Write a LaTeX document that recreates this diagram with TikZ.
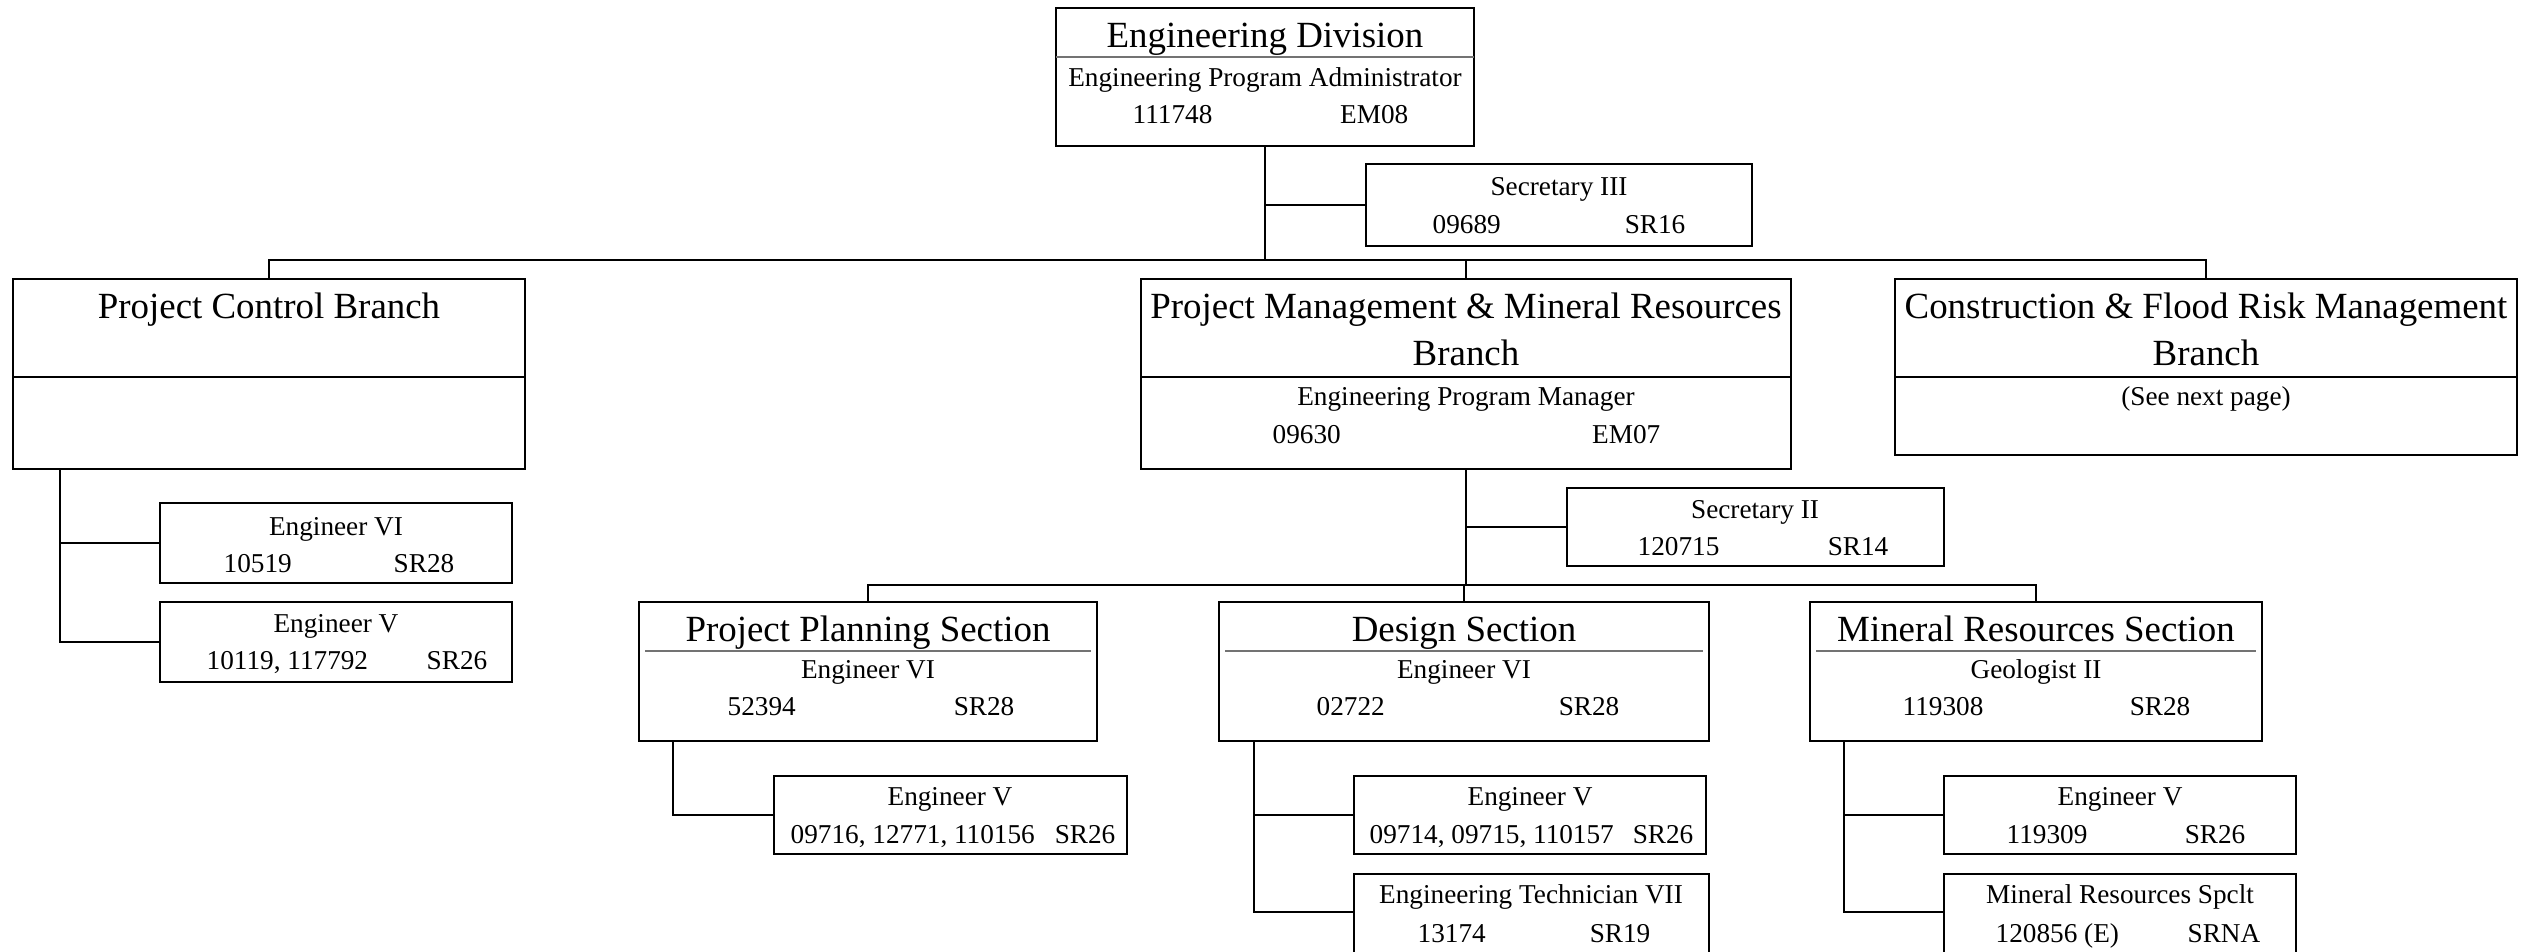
\documentclass[tikz,border=0pt]{standalone}
\usepackage{fontspec}
\setmainfont{Liberation Serif}
\usetikzlibrary{fit}
\begin{document}
\begin{tikzpicture}[x=0.1mm,y=-0.1mm,
  obox/.style={draw, line width=0.2mm, inner sep=0pt},
  conn/.style={line width=0.2mm},
  sepblk/.style={line width=0.2mm},
  sepgray/.style={draw=black!55, line width=0.15mm},
  ttl/.style={font=\fontsize{10.5}{13}\selectfont, anchor=base, inner sep=0pt},
  txt/.style={font=\fontsize{7.75}{9}\selectfont, anchor=base, inner sep=0pt},
  txl/.style={txt, anchor=base west},
  txr/.style={txt, anchor=base east}]
\clip (0,0) rectangle (2540,951);
\fill[white] (0,0) rectangle (2540,951);

% ---------- boxes ----------
\node[obox, fit={(1056,8) (1474,146)}] (ed) {};
\node[obox, fit={(1366,164) (1752,246)}] (sec3) {};
\node[obox, fit={(13,279) (525,469)}] (pcb) {};
\node[obox, fit={(1141,279) (1791,469)}] (pmmr) {};
\node[obox, fit={(1895,279) (2517,455)}] (cfrm) {};
\node[obox, fit={(160,503) (512,583)}] (pe6) {};
\node[obox, fit={(160,602) (512,682)}] (pe5) {};
\node[obox, fit={(1567,488) (1944,566)}] (sec2) {};
\node[obox, fit={(639,602) (1097,741)}] (pps) {};
\node[obox, fit={(774,776) (1127,854)}] (ppe5) {};
\node[obox, fit={(1219,602) (1709,741)}] (ds) {};
\node[obox, fit={(1354,776) (1706,854)}] (dse5) {};
\node[obox, fit={(1354,874) (1709,956)}] (dtech) {};
\node[obox, fit={(1810,602) (2262,741)}] (mrs) {};
\node[obox, fit={(1944,776) (2296,854)}] (mre5) {};
\node[obox, fit={(1944,874) (2296,956)}] (mrsp) {};

% ---------- separators ----------
\draw[sepgray] (1056,57) -- (1474,57);
\draw[sepblk] (13,377) -- (525,377);
\draw[sepblk] (1141,377) -- (1791,377);
\draw[sepblk] (1895,377) -- (2517,377);
\draw[sepgray] (645,651) -- (1091,651);
\draw[sepgray] (1225,651) -- (1703,651);
\draw[sepgray] (1816,651) -- (2256,651);

% ---------- texts ----------
\node[ttl] at (1265,47) {Engineering Division};
\node[txt] at (1265,86) {Engineering Program Administrator};
\node[txl] at (1132,123) {111748};
\node[txr] at (1409,123) {EM08};

\node[txt] at (1559,195) {Secretary III};
\node[txl] at (1432,233) {09689};
\node[txr] at (1686,233) {SR16};

\node[ttl] at (269,318) {Project Control Branch};

\node[ttl] at (1466,318) {Project Management \& Mineral Resources};
\node[ttl] at (1466,365) {Branch};
\node[txt] at (1466,405) {Engineering Program Manager};
\node[txl] at (1272,443) {09630};
\node[txr] at (1661,443) {EM07};

\node[ttl] at (2206,318) {Construction \& Flood Risk Management};
\node[ttl] at (2206,365) {Branch};
\node[txt] at (2206,405) {(See next page)};

\node[txt] at (336,535) {Engineer VI};
\node[txl] at (223,572) {10519};
\node[txr] at (455,572) {SR28};

\node[txt] at (336,632) {Engineer V};
\node[txl] at (206,669) {10119, 117792};
\node[txr] at (488,669) {SR26};

\node[txt] at (1755,518) {Secretary II};
\node[txl] at (1637,555) {120715};
\node[txr] at (1889,555) {SR14};

\node[ttl] at (868,641) {Project Planning Section};
\node[txt] at (868,678) {Engineer VI};
\node[txl] at (727,715) {52394};
\node[txr] at (1015,715) {SR28};

\node[txt] at (950,805) {Engineer V};
\node[txl] at (790,843) {09716, 12771, 110156};
\node[txr] at (1116,843) {SR26};

\node[ttl] at (1464,641) {Design Section};
\node[txt] at (1464,678) {Engineer VI};
\node[txl] at (1316,715) {02722};
\node[txr] at (1620,715) {SR28};

\node[txt] at (1530,805) {Engineer V};
\node[txl] at (1369,843) {09714, 09715, 110157};
\node[txr] at (1694,843) {SR26};

\node[txt] at (1531,903) {Engineering Technician VII};
\node[txl] at (1417,942) {13174};
\node[txr] at (1651,942) {SR19};

\node[ttl] at (2036,641) {Mineral Resources Section};
\node[txt] at (2036,678) {Geologist II};
\node[txl] at (1902,715) {119308};
\node[txr] at (2191,715) {SR28};

\node[txt] at (2120,805) {Engineer V};
\node[txl] at (2006,843) {119309};
\node[txr] at (2246,843) {SR26};

\node[txt] at (2120,903) {Mineral Resources Spclt};
\node[txl] at (1995,942) {120856 (E)};
\node[txr] at (2261,942) {SRNA};

% ---------- connectors ----------
\coordinate (b1) at (1265,260);
\draw[conn] (ed.south) -- (b1);
\draw[conn] (ed.south |- sec3.west) -- (sec3.west);
\draw[conn] (pcb.north) |- (b1) -| (cfrm.north);
\draw[conn] (pmmr.north) -- (pmmr.north |- b1);

\coordinate (pcbl) at (60,469);
\draw[conn] (pcbl) |- (pe5.west);
\draw[conn] (pcbl |- pe6.west) -- (pe6.west);

\path (pmmr.south) ++(0,115) coordinate (b2);
\draw[conn] (pmmr.south) -- (b2);
\draw[conn] (pmmr.south |- sec2.west) -- (sec2.west);
\draw[conn] (pps.north) |- (b2) -| (mrs.north);
\draw[conn] (ds.north) -- (ds.north |- b2);

\coordinate (ppsl) at (673,741);
\draw[conn] (ppsl) |- (ppe5.west);

\coordinate (dsl) at (1254,741);
\coordinate (dtl) at (1354,912);
\draw[conn] (dsl) |- (dtl);
\draw[conn] (dsl |- dse5.west) -- (dse5.west);

\coordinate (mrsl) at (1844,741);
\coordinate (mpl) at (1944,912);
\draw[conn] (mrsl) |- (mpl);
\draw[conn] (mrsl |- mre5.west) -- (mre5.west);
\end{tikzpicture}
\end{document}
